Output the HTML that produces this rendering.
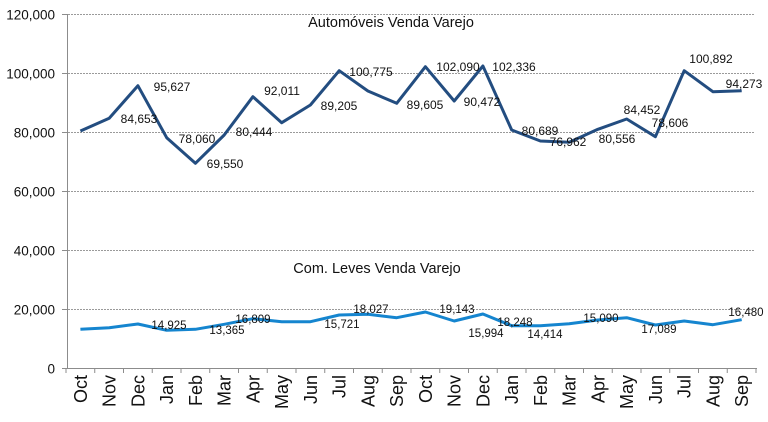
<!DOCTYPE html>
<html><head><meta charset="utf-8"><style>
html,body{margin:0;padding:0;background:#fff;}
svg{display:block;font-family:"Liberation Sans","DejaVu Sans",sans-serif;}
</style></head><body>
<svg width="768" height="422" viewBox="0 0 768 422" xmlns="http://www.w3.org/2000/svg">
<g stroke="#9a9a9a" stroke-width="1" stroke-dasharray="2,1">
<line x1="62" y1="14.5" x2="755" y2="14.5"/>
<line x1="62" y1="73.5" x2="755" y2="73.5"/>
<line x1="62" y1="132.5" x2="755" y2="132.5"/>
<line x1="62" y1="191.5" x2="755" y2="191.5"/>
<line x1="62" y1="250.5" x2="755" y2="250.5"/>
<line x1="62" y1="309.5" x2="755" y2="309.5"/>
</g>
<g stroke="#8c8c8c" stroke-width="1">
<line x1="67.5" y1="14" x2="67.5" y2="368"/>
<line x1="62" y1="368.5" x2="757" y2="368.5"/>
<line x1="62" y1="14.5" x2="67" y2="14.5"/><line x1="62" y1="73.5" x2="67" y2="73.5"/><line x1="62" y1="132.5" x2="67" y2="132.5"/><line x1="62" y1="191.5" x2="67" y2="191.5"/><line x1="62" y1="250.5" x2="67" y2="250.5"/><line x1="62" y1="309.5" x2="67" y2="309.5"/>
<path d="M66 368v5M94.75 368v5M123.5 368v5M152.25 368v5M181 368v5M209.75 368v5M238.5 368v5M267.25 368v5M296 368v5M324.75 368v5M353.5 368v5M382.25 368v5M411 368v5M439.75 368v5M468.5 368v5M497.25 368v5M526 368v5M554.75 368v5M583.5 368v5M612.25 368v5M641 368v5M669.75 368v5M698.5 368v5M727.25 368v5M756 368v5"/>
</g>
<g font-size="13.5" fill="#111" text-anchor="end">
<text x="55" y="19.5">120,000</text><text x="55" y="78.5">100,000</text><text x="55" y="137.5">80,000</text><text x="55" y="196.5">60,000</text><text x="55" y="255.5">40,000</text><text x="55" y="314.5">20,000</text><text x="55" y="373.5">0</text>
</g>
<g font-size="18" fill="#111" text-anchor="end">
<text transform="translate(87,375) rotate(-90)">Oct</text>
<text transform="translate(115.7,375) rotate(-90)">Nov</text>
<text transform="translate(144.4,375) rotate(-90)">Dec</text>
<text transform="translate(173.2,375) rotate(-90)">Jan</text>
<text transform="translate(201.9,375) rotate(-90)">Feb</text>
<text transform="translate(230.7,375) rotate(-90)">Mar</text>
<text transform="translate(259.4,375) rotate(-90)">Apr</text>
<text transform="translate(288.2,375) rotate(-90)">May</text>
<text transform="translate(316.9,375) rotate(-90)">Jun</text>
<text transform="translate(345.7,375) rotate(-90)">Jul</text>
<text transform="translate(374.4,375) rotate(-90)">Aug</text>
<text transform="translate(403.2,375) rotate(-90)">Sep</text>
<text transform="translate(431.9,375) rotate(-90)">Oct</text>
<text transform="translate(460.7,375) rotate(-90)">Nov</text>
<text transform="translate(489.4,375) rotate(-90)">Dec</text>
<text transform="translate(518.2,375) rotate(-90)">Jan</text>
<text transform="translate(546.9,375) rotate(-90)">Feb</text>
<text transform="translate(575.7,375) rotate(-90)">Mar</text>
<text transform="translate(604.4,375) rotate(-90)">Apr</text>
<text transform="translate(633.2,375) rotate(-90)">May</text>
<text transform="translate(661.9,375) rotate(-90)">Jun</text>
<text transform="translate(690.7,375) rotate(-90)">Jul</text>
<text transform="translate(719.4,375) rotate(-90)">Aug</text>
<text transform="translate(748.2,375) rotate(-90)">Sep</text>
</g>
<polyline fill="none" stroke="#234d80" stroke-width="3" stroke-linejoin="round" points="80.4,131 109.2,118.3 137.9,85.7 166.7,137.7 195.4,163.3 224.2,135 252.9,96.7 281.7,122.7 310.4,105 339.2,70.7 367.9,91 396.7,103.3 425.4,66.7 454.2,101 482.9,66 511.7,130 540.4,141 569.2,142.3 597.9,129.3 626.7,119 655.4,136.7 684.2,70.7 712.9,91.7 741.7,90.7"/>
<polyline fill="none" stroke="#1585cf" stroke-width="3" stroke-linejoin="round" points="80.4,329.3 109.2,327.7 137.9,324 166.7,330.3 195.4,329.3 224.2,324.3 252.9,318.7 281.7,321.7 310.4,321.7 339.2,315 367.9,314.3 396.7,317.7 425.4,312 454.2,321 482.9,314 511.7,325.7 540.4,325.7 569.2,323.7 597.9,320 626.7,317.7 655.4,325 684.2,321 712.9,324.7 741.7,319.7"/>
<g font-size="14.5" fill="#111" text-anchor="middle">
<text x="391" y="27">Automóveis Venda Varejo</text>
<text x="377" y="273">Com. Leves Venda Varejo</text>
</g>
<g font-size="12" fill="#111" text-anchor="middle">
<text x="172" y="91">95,627</text><text x="139" y="123">84,653</text><text x="197" y="143">78,060</text><text x="225" y="168">69,550</text><text x="254" y="136">80,444</text><text x="282" y="95">92,011</text><text x="339" y="110">89,205</text><text x="371" y="76">100,775</text>
<text x="425" y="109">89,605</text><text x="458" y="71">102,090</text><text x="482" y="106">90,472</text><text x="514" y="71">102,336</text><text x="540" y="135">80,689</text><text x="568" y="146">76,962</text><text x="617" y="143">80,556</text><text x="642" y="114">84,452</text><text x="670" y="127">78,606</text><text x="711" y="63">100,892</text><text x="744" y="88">94,273</text>
</g>
<g font-size="11.5" fill="#111" text-anchor="middle">
<text x="169" y="329">14,925</text><text x="227" y="334">13,365</text><text x="253" y="323">16,809</text><text x="342" y="328">15,721</text><text x="371" y="313">18,027</text><text x="457" y="313">19,143</text><text x="486" y="337">15,994</text><text x="515" y="326">18,248</text><text x="545" y="338">14,414</text><text x="601" y="322">15,090</text><text x="659" y="333">17,089</text><text x="746" y="316">16,480</text>
</g>
</svg>
</body></html>
